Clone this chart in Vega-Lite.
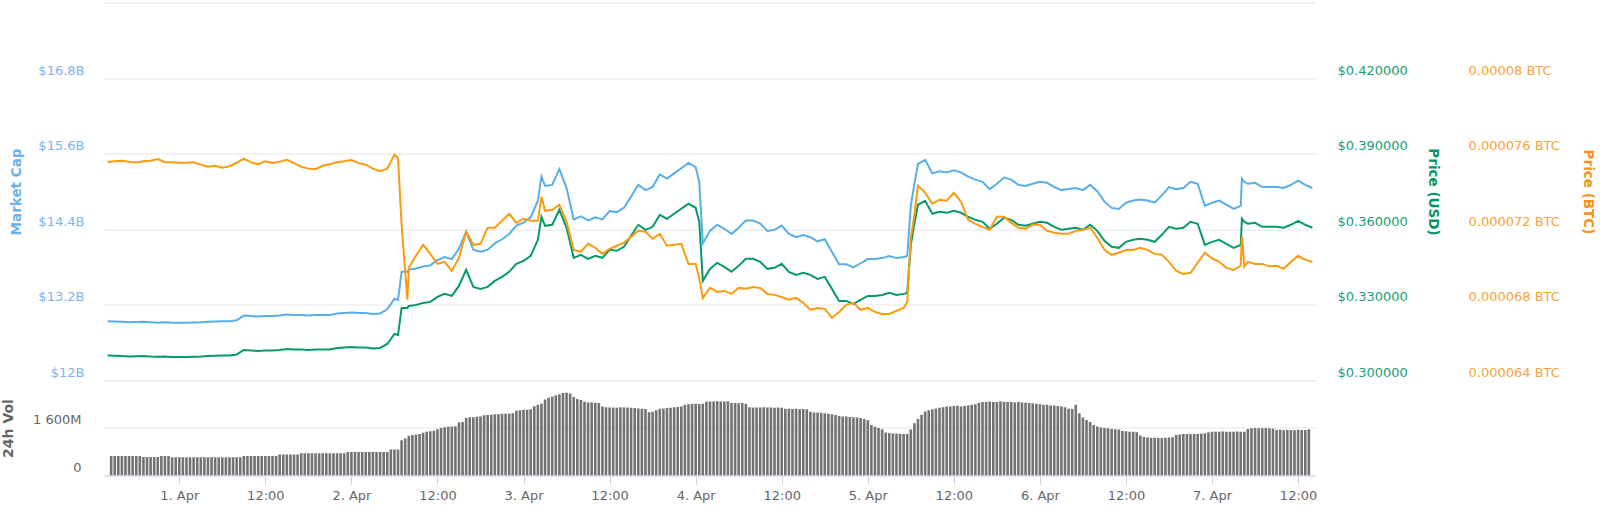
{
"$schema":"https://vega.github.io/schema/vega-lite/v6.json",
"autosize":{"type":"none"},
"padding":{"left":104,"top":2.5,"right":284,"bottom":36.5},
"width":1212,"height":473,
"background":"white",
"config":{"view":{"stroke":null},"font":"DejaVu Sans","axis":{"labelFont":"DejaVu Sans","titleFont":"DejaVu Sans","labelFontSize":13,"domain":false,"ticks":false,"tickSize":0,"grid":false,"gridColor":"#e6e6e6","labelColor":"#666666"}},
"datasets":{
"lines":[
{"t":"2019-03-31T14:00","m":12.939,"u":0.30993,"b":0.00007556},
{"t":"2019-03-31T15:00","m":12.936,"u":0.30985,"b":0.0000756},
{"t":"2019-03-31T16:00","m":12.932,"u":0.30974,"b":0.00007563},
{"t":"2019-03-31T17:00","m":12.923,"u":0.30954,"b":0.00007558},
{"t":"2019-03-31T18:00","m":12.927,"u":0.30962,"b":0.00007554},
{"t":"2019-03-31T19:00","m":12.932,"u":0.30974,"b":0.0000756},
{"t":"2019-03-31T20:00","m":12.923,"u":0.30954,"b":0.00007563},
{"t":"2019-03-31T21:00","m":12.918,"u":0.30942,"b":0.00007572},
{"t":"2019-03-31T22:00","m":12.923,"u":0.30954,"b":0.00007555},
{"t":"2019-03-31T23:00","m":12.915,"u":0.30934,"b":0.00007555},
{"t":"2019-04-01T00:00","m":12.915,"u":0.30934,"b":0.00007552},
{"t":"2019-04-01T01:00","m":12.915,"u":0.30934,"b":0.00007552},
{"t":"2019-04-01T02:00","m":12.920,"u":0.30946,"b":0.00007555},
{"t":"2019-04-01T03:00","m":12.923,"u":0.30954,"b":0.00007542},
{"t":"2019-04-01T04:00","m":12.932,"u":0.30974,"b":0.00007531},
{"t":"2019-04-01T05:00","m":12.936,"u":0.30985,"b":0.00007536},
{"t":"2019-04-01T06:00","m":12.939,"u":0.30993,"b":0.00007526},
{"t":"2019-04-01T07:00","m":12.939,"u":0.30993,"b":0.00007534},
{"t":"2019-04-01T08:00","m":12.956,"u":0.31033,"b":0.00007552},
{"t":"2019-04-01T09:00","m":13.031,"u":0.31212,"b":0.00007574},
{"t":"2019-04-01T10:00","m":13.023,"u":0.31192,"b":0.00007554},
{"t":"2019-04-01T11:00","m":13.014,"u":0.31172,"b":0.00007544},
{"t":"2019-04-01T12:00","m":13.023,"u":0.31192,"b":0.0000756},
{"t":"2019-04-01T13:00","m":13.023,"u":0.31192,"b":0.00007551},
{"t":"2019-04-01T14:00","m":13.031,"u":0.31212,"b":0.00007558},
{"t":"2019-04-01T15:00","m":13.048,"u":0.31252,"b":0.00007568},
{"t":"2019-04-01T16:00","m":13.039,"u":0.31232,"b":0.0000755},
{"t":"2019-04-01T17:00","m":13.039,"u":0.31232,"b":0.00007531},
{"t":"2019-04-01T18:00","m":13.031,"u":0.31212,"b":0.00007521},
{"t":"2019-04-01T19:00","m":13.039,"u":0.31232,"b":0.00007518},
{"t":"2019-04-01T20:00","m":13.039,"u":0.31232,"b":0.00007536},
{"t":"2019-04-01T21:00","m":13.039,"u":0.31232,"b":0.00007544},
{"t":"2019-04-01T22:00","m":13.064,"u":0.31291,"b":0.00007555},
{"t":"2019-04-01T23:00","m":13.072,"u":0.31311,"b":0.0000756},
{"t":"2019-04-02T00:00","m":13.081,"u":0.31331,"b":0.00007566},
{"t":"2019-04-02T01:00","m":13.072,"u":0.31311,"b":0.0000755},
{"t":"2019-04-02T02:00","m":13.072,"u":0.31311,"b":0.00007542},
{"t":"2019-04-02T03:00","m":13.056,"u":0.31272,"b":0.00007521},
{"t":"2019-04-02T04:00","m":13.064,"u":0.31291,"b":0.00007507},
{"t":"2019-04-02T05:00","m":13.130,"u":0.3145,"b":0.00007521},
{"t":"2019-04-02T06:00","m":13.297,"u":0.31848,"b":0.00007595},
{"t":"2019-04-02T06:30","m":13.280,"u":0.31808,"b":0.00007576},
{"t":"2019-04-02T07:00","m":13.728,"u":0.32881,"b":0.00007224},
{"t":"2019-04-02T07:48","m":13.728,"u":0.32881,"b":0.00006827},
{"t":"2019-04-02T08:00","m":13.761,"u":0.3296,"b":0.00006996},
{"t":"2019-04-02T09:00","m":13.778,"u":0.33,"b":0.0000706},
{"t":"2019-04-02T10:00","m":13.810,"u":0.33079,"b":0.00007118},
{"t":"2019-04-02T11:00","m":13.827,"u":0.33119,"b":0.0000707},
{"t":"2019-04-02T12:00","m":13.910,"u":0.33318,"b":0.00007017},
{"t":"2019-04-02T13:00","m":13.960,"u":0.33437,"b":0.00007028},
{"t":"2019-04-02T14:00","m":13.927,"u":0.33358,"b":0.0000698},
{"t":"2019-04-02T15:00","m":14.093,"u":0.33755,"b":0.00007049},
{"t":"2019-04-02T16:00","m":14.358,"u":0.34391,"b":0.00007187},
{"t":"2019-04-02T17:00","m":14.076,"u":0.33715,"b":0.00007118},
{"t":"2019-04-02T18:00","m":14.043,"u":0.33636,"b":0.00007123},
{"t":"2019-04-02T19:00","m":14.076,"u":0.33715,"b":0.00007208},
{"t":"2019-04-02T20:00","m":14.176,"u":0.33954,"b":0.00007208},
{"t":"2019-04-02T21:00","m":14.242,"u":0.34113,"b":0.00007245},
{"t":"2019-04-02T22:00","m":14.325,"u":0.34311,"b":0.00007282},
{"t":"2019-04-02T23:00","m":14.458,"u":0.34629,"b":0.00007234},
{"t":"2019-04-03T00:00","m":14.507,"u":0.34748,"b":0.00007256},
{"t":"2019-04-03T01:00","m":14.590,"u":0.34947,"b":0.00007245},
{"t":"2019-04-03T02:00","m":14.856,"u":0.35583,"b":0.00007245},
{"t":"2019-04-03T02:30","m":15.237,"u":0.36497,"b":0.00007372},
{"t":"2019-04-03T03:00","m":15.088,"u":0.36139,"b":0.00007298},
{"t":"2019-04-03T04:00","m":15.105,"u":0.36179,"b":0.00007303},
{"t":"2019-04-03T05:00","m":15.354,"u":0.36775,"b":0.0000733},
{"t":"2019-04-03T06:00","m":15.055,"u":0.3606,"b":0.0000724},
{"t":"2019-04-03T07:00","m":14.557,"u":0.34868,"b":0.00007091},
{"t":"2019-04-03T08:00","m":14.607,"u":0.34987,"b":0.00007081},
{"t":"2019-04-03T09:00","m":14.541,"u":0.34828,"b":0.00007123},
{"t":"2019-04-03T10:00","m":14.590,"u":0.34947,"b":0.00007102},
{"t":"2019-04-03T11:00","m":14.557,"u":0.34868,"b":0.0000707},
{"t":"2019-04-03T12:00","m":14.690,"u":0.35185,"b":0.00007097},
{"t":"2019-04-03T13:00","m":14.673,"u":0.35146,"b":0.00007113},
{"t":"2019-04-03T14:00","m":14.740,"u":0.35305,"b":0.00007129},
{"t":"2019-04-03T15:00","m":14.922,"u":0.35742,"b":0.0000716},
{"t":"2019-04-03T16:00","m":15.105,"u":0.36179,"b":0.00007192},
{"t":"2019-04-03T17:00","m":15.022,"u":0.3598,"b":0.00007187},
{"t":"2019-04-03T18:00","m":15.071,"u":0.36099,"b":0.0000715},
{"t":"2019-04-03T19:00","m":15.270,"u":0.36576,"b":0.00007176},
{"t":"2019-04-03T20:00","m":15.204,"u":0.36417,"b":0.00007113},
{"t":"2019-04-03T21:00","m":15.287,"u":0.36616,"b":0.00007118},
{"t":"2019-04-03T22:00","m":15.370,"u":0.36815,"b":0.00007123},
{"t":"2019-04-03T23:00","m":15.453,"u":0.37013,"b":0.00007017},
{"t":"2019-04-04T00:00","m":15.387,"u":0.36854,"b":0.00007017},
{"t":"2019-04-04T00:30","m":15.154,"u":0.36298,"b":0.00006943},
{"t":"2019-04-04T01:00","m":14.176,"u":0.33954,"b":0.00006837},
{"t":"2019-04-04T02:00","m":14.375,"u":0.3443,"b":0.0000689},
{"t":"2019-04-04T03:00","m":14.474,"u":0.34669,"b":0.00006869},
{"t":"2019-04-04T04:00","m":14.408,"u":0.3451,"b":0.00006874},
{"t":"2019-04-04T05:00","m":14.325,"u":0.34311,"b":0.00006858},
{"t":"2019-04-04T06:00","m":14.425,"u":0.3455,"b":0.0000689},
{"t":"2019-04-04T07:00","m":14.541,"u":0.34828,"b":0.00006885},
{"t":"2019-04-04T08:00","m":14.541,"u":0.34828,"b":0.00006895},
{"t":"2019-04-04T09:00","m":14.491,"u":0.34709,"b":0.0000689},
{"t":"2019-04-04T10:00","m":14.375,"u":0.3443,"b":0.00006858},
{"t":"2019-04-04T11:00","m":14.391,"u":0.3447,"b":0.00006853},
{"t":"2019-04-04T12:00","m":14.458,"u":0.34629,"b":0.00006842},
{"t":"2019-04-04T13:00","m":14.325,"u":0.34311,"b":0.00006827},
{"t":"2019-04-04T14:00","m":14.275,"u":0.34192,"b":0.00006837},
{"t":"2019-04-04T15:00","m":14.309,"u":0.34272,"b":0.00006811},
{"t":"2019-04-04T16:00","m":14.275,"u":0.34192,"b":0.00006774},
{"t":"2019-04-04T17:00","m":14.209,"u":0.34033,"b":0.00006784},
{"t":"2019-04-04T18:00","m":14.242,"u":0.34113,"b":0.00006779},
{"t":"2019-04-04T19:00","m":14.043,"u":0.33636,"b":0.00006731},
{"t":"2019-04-04T20:00","m":13.844,"u":0.33159,"b":0.00006763},
{"t":"2019-04-04T21:00","m":13.844,"u":0.33159,"b":0.000068},
{"t":"2019-04-04T22:00","m":13.794,"u":0.3304,"b":0.00006811},
{"t":"2019-04-04T23:00","m":13.861,"u":0.33199,"b":0.00006774},
{"t":"2019-04-05T00:00","m":13.927,"u":0.33358,"b":0.00006784},
{"t":"2019-04-05T01:00","m":13.927,"u":0.33358,"b":0.00006763},
{"t":"2019-04-05T02:00","m":13.943,"u":0.33397,"b":0.00006752},
{"t":"2019-04-05T03:00","m":13.977,"u":0.33477,"b":0.00006752},
{"t":"2019-04-05T04:00","m":13.943,"u":0.33397,"b":0.00006768},
{"t":"2019-04-05T05:00","m":13.960,"u":0.33437,"b":0.00006784},
{"t":"2019-04-05T05:30","m":13.977,"u":0.33477,"b":0.00006816},
{"t":"2019-04-05T06:00","m":14.773,"u":0.35384,"b":0.00007155},
{"t":"2019-04-05T06:30","m":15.122,"u":0.36219,"b":0.00007277},
{"t":"2019-04-05T07:00","m":15.437,"u":0.36974,"b":0.00007431},
{"t":"2019-04-05T08:00","m":15.503,"u":0.37133,"b":0.00007393},
{"t":"2019-04-05T09:00","m":15.287,"u":0.36616,"b":0.00007335},
{"t":"2019-04-05T10:00","m":15.320,"u":0.36695,"b":0.00007356},
{"t":"2019-04-05T11:00","m":15.303,"u":0.36656,"b":0.00007351},
{"t":"2019-04-05T12:00","m":15.337,"u":0.36735,"b":0.00007393},
{"t":"2019-04-05T13:00","m":15.303,"u":0.36656,"b":0.00007346},
{"t":"2019-04-05T14:00","m":15.237,"u":0.36497,"b":0.0000725},
{"t":"2019-04-05T15:00","m":15.188,"u":0.36377,"b":0.00007229},
{"t":"2019-04-05T16:00","m":15.154,"u":0.36298,"b":0.00007213},
{"t":"2019-04-05T17:00","m":15.038,"u":0.3602,"b":0.00007197},
{"t":"2019-04-05T18:00","m":15.122,"u":0.36219,"b":0.00007266},
{"t":"2019-04-05T19:00","m":15.221,"u":0.36457,"b":0.00007266},
{"t":"2019-04-05T20:00","m":15.188,"u":0.36377,"b":0.00007234},
{"t":"2019-04-05T21:00","m":15.105,"u":0.36179,"b":0.00007208},
{"t":"2019-04-05T22:00","m":15.088,"u":0.36139,"b":0.00007203},
{"t":"2019-04-05T23:00","m":15.122,"u":0.36219,"b":0.00007224},
{"t":"2019-04-06T00:00","m":15.154,"u":0.36298,"b":0.00007224},
{"t":"2019-04-06T01:00","m":15.138,"u":0.36258,"b":0.00007192},
{"t":"2019-04-06T02:00","m":15.071,"u":0.36099,"b":0.00007182},
{"t":"2019-04-06T03:00","m":15.022,"u":0.3598,"b":0.00007176},
{"t":"2019-04-06T04:00","m":15.038,"u":0.3602,"b":0.00007176},
{"t":"2019-04-06T05:00","m":15.055,"u":0.3606,"b":0.00007192},
{"t":"2019-04-06T06:00","m":15.022,"u":0.3598,"b":0.00007197},
{"t":"2019-04-06T07:00","m":15.105,"u":0.36179,"b":0.00007208},
{"t":"2019-04-06T08:00","m":15.005,"u":0.3594,"b":0.00007155},
{"t":"2019-04-06T09:00","m":14.839,"u":0.35543,"b":0.00007091},
{"t":"2019-04-06T10:00","m":14.740,"u":0.35305,"b":0.00007065},
{"t":"2019-04-06T11:00","m":14.723,"u":0.35265,"b":0.00007076},
{"t":"2019-04-06T12:00","m":14.822,"u":0.35503,"b":0.00007091},
{"t":"2019-04-06T13:00","m":14.856,"u":0.35583,"b":0.00007091},
{"t":"2019-04-06T14:00","m":14.872,"u":0.35623,"b":0.00007102},
{"t":"2019-04-06T15:00","m":14.856,"u":0.35583,"b":0.00007091},
{"t":"2019-04-06T16:00","m":14.822,"u":0.35503,"b":0.0000707},
{"t":"2019-04-06T17:00","m":14.939,"u":0.35782,"b":0.00007065},
{"t":"2019-04-06T18:00","m":15.071,"u":0.36099,"b":0.00007028},
{"t":"2019-04-06T19:00","m":15.038,"u":0.3602,"b":0.0000698},
{"t":"2019-04-06T20:00","m":15.055,"u":0.3606,"b":0.00006964},
{"t":"2019-04-06T21:00","m":15.154,"u":0.36298,"b":0.0000697},
{"t":"2019-04-06T22:00","m":15.122,"u":0.36219,"b":0.00007023},
{"t":"2019-04-06T23:00","m":14.773,"u":0.35384,"b":0.00007076},
{"t":"2019-04-07T00:00","m":14.822,"u":0.35503,"b":0.00007046},
{"t":"2019-04-07T01:00","m":14.856,"u":0.35583,"b":0.00007028},
{"t":"2019-04-07T02:00","m":14.790,"u":0.35424,"b":0.00006996},
{"t":"2019-04-07T03:00","m":14.723,"u":0.35265,"b":0.00006985},
{"t":"2019-04-07T04:00","m":14.773,"u":0.35384,"b":0.00007007},
{"t":"2019-04-07T04:10","m":15.204,"u":0.36417,"b":0.00007163},
{"t":"2019-04-07T04:30","m":15.154,"u":0.36298,"b":0.00007003},
{"t":"2019-04-07T05:00","m":15.122,"u":0.36219,"b":0.00007028},
{"t":"2019-04-07T06:00","m":15.138,"u":0.36258,"b":0.00007017},
{"t":"2019-04-07T07:00","m":15.071,"u":0.36099,"b":0.00007017},
{"t":"2019-04-07T08:00","m":15.071,"u":0.36099,"b":0.00007004},
{"t":"2019-04-07T09:00","m":15.071,"u":0.36099,"b":0.00007007},
{"t":"2019-04-07T10:00","m":15.055,"u":0.3606,"b":0.00006991},
{"t":"2019-04-07T11:00","m":15.105,"u":0.36179,"b":0.00007028},
{"t":"2019-04-07T12:00","m":15.171,"u":0.36338,"b":0.0000706},
{"t":"2019-04-07T13:00","m":15.105,"u":0.36179,"b":0.00007038},
{"t":"2019-04-07T14:00","m":15.055,"u":0.3606,"b":0.00007028}
],
"vol":[
{"t":"2019-03-31T14:30","v":657},{"t":"2019-03-31T15:00","v":657},{"t":"2019-03-31T15:30","v":657},{"t":"2019-03-31T16:00","v":657},{"t":"2019-03-31T16:30","v":657},{"t":"2019-03-31T17:00","v":657},{"t":"2019-03-31T17:30","v":657},{"t":"2019-03-31T18:00","v":657},{"t":"2019-03-31T18:30","v":657},
{"t":"2019-03-31T19:00","v":623},{"t":"2019-03-31T19:30","v":623},{"t":"2019-03-31T20:00","v":623},{"t":"2019-03-31T20:30","v":623},{"t":"2019-03-31T21:00","v":623},
{"t":"2019-03-31T21:30","v":657},{"t":"2019-03-31T22:00","v":657},{"t":"2019-03-31T22:30","v":657},
{"t":"2019-03-31T23:00","v":613},{"t":"2019-03-31T23:30","v":613},
{"t":"2019-04-01T00:00","v":613},{"t":"2019-04-01T00:30","v":613},{"t":"2019-04-01T01:00","v":613},{"t":"2019-04-01T01:30","v":613},{"t":"2019-04-01T02:00","v":613},{"t":"2019-04-01T02:30","v":613},{"t":"2019-04-01T03:00","v":613},{"t":"2019-04-01T03:30","v":613},{"t":"2019-04-01T04:00","v":613},{"t":"2019-04-01T04:30","v":613},{"t":"2019-04-01T05:00","v":613},{"t":"2019-04-01T05:30","v":613},{"t":"2019-04-01T06:00","v":613},{"t":"2019-04-01T06:30","v":613},{"t":"2019-04-01T07:00","v":613},{"t":"2019-04-01T07:30","v":613},{"t":"2019-04-01T08:00","v":613},{"t":"2019-04-01T08:30","v":613},
{"t":"2019-04-01T09:00","v":657},{"t":"2019-04-01T09:30","v":657},{"t":"2019-04-01T10:00","v":657},{"t":"2019-04-01T10:30","v":657},{"t":"2019-04-01T11:00","v":657},{"t":"2019-04-01T11:30","v":657},{"t":"2019-04-01T12:00","v":657},{"t":"2019-04-01T12:30","v":657},{"t":"2019-04-01T13:00","v":657},{"t":"2019-04-01T13:30","v":657},
{"t":"2019-04-01T14:00","v":704},{"t":"2019-04-01T14:30","v":704},{"t":"2019-04-01T15:00","v":704},{"t":"2019-04-01T15:30","v":704},{"t":"2019-04-01T16:00","v":704},{"t":"2019-04-01T16:30","v":704},
{"t":"2019-04-01T17:00","v":749},{"t":"2019-04-01T17:30","v":749},{"t":"2019-04-01T18:00","v":749},{"t":"2019-04-01T18:30","v":749},{"t":"2019-04-01T19:00","v":749},{"t":"2019-04-01T19:30","v":749},{"t":"2019-04-01T20:00","v":749},{"t":"2019-04-01T20:30","v":749},{"t":"2019-04-01T21:00","v":749},{"t":"2019-04-01T21:30","v":749},{"t":"2019-04-01T22:00","v":749},{"t":"2019-04-01T22:30","v":749},{"t":"2019-04-01T23:00","v":749},
{"t":"2019-04-01T23:30","v":794},{"t":"2019-04-02T00:00","v":794},{"t":"2019-04-02T00:30","v":794},{"t":"2019-04-02T01:00","v":794},{"t":"2019-04-02T01:30","v":794},{"t":"2019-04-02T02:00","v":794},{"t":"2019-04-02T02:30","v":794},{"t":"2019-04-02T03:00","v":794},{"t":"2019-04-02T03:30","v":794},{"t":"2019-04-02T04:00","v":794},{"t":"2019-04-02T04:30","v":794},{"t":"2019-04-02T05:00","v":794},
{"t":"2019-04-02T05:30","v":874},{"t":"2019-04-02T06:00","v":874},{"t":"2019-04-02T06:30","v":874},
{"t":"2019-04-02T07:00","v":1191},{"t":"2019-04-02T07:30","v":1250},
{"t":"2019-04-02T08:00","v":1340},{"t":"2019-04-02T08:30","v":1362},{"t":"2019-04-02T09:00","v":1380},{"t":"2019-04-02T09:30","v":1400},
{"t":"2019-04-02T10:00","v":1440},{"t":"2019-04-02T10:30","v":1475},{"t":"2019-04-02T11:00","v":1490},{"t":"2019-04-02T11:30","v":1510},
{"t":"2019-04-02T12:00","v":1560},{"t":"2019-04-02T12:30","v":1600},{"t":"2019-04-02T13:00","v":1623},{"t":"2019-04-02T13:30","v":1640},{"t":"2019-04-02T14:00","v":1650},{"t":"2019-04-02T14:30","v":1660},
{"t":"2019-04-02T15:00","v":1782},{"t":"2019-04-02T15:30","v":1800},
{"t":"2019-04-02T16:00","v":1940},{"t":"2019-04-02T16:30","v":1963},{"t":"2019-04-02T17:00","v":1963},{"t":"2019-04-02T17:30","v":1975},{"t":"2019-04-02T18:00","v":1985},
{"t":"2019-04-02T18:30","v":2030},{"t":"2019-04-02T19:00","v":2040},{"t":"2019-04-02T19:30","v":2050},{"t":"2019-04-02T20:00","v":2065},{"t":"2019-04-02T20:30","v":2065},{"t":"2019-04-02T21:00","v":2080},{"t":"2019-04-02T21:30","v":2080},{"t":"2019-04-02T22:00","v":2090},{"t":"2019-04-02T22:30","v":2100},
{"t":"2019-04-02T23:00","v":2180},{"t":"2019-04-02T23:30","v":2200},{"t":"2019-04-03T00:00","v":2213},{"t":"2019-04-03T00:30","v":2213},{"t":"2019-04-03T01:00","v":2230},
{"t":"2019-04-03T01:30","v":2330},{"t":"2019-04-03T02:00","v":2383},{"t":"2019-04-03T02:30","v":2420},
{"t":"2019-04-03T03:00","v":2560},{"t":"2019-04-03T03:30","v":2620},{"t":"2019-04-03T04:00","v":2660},{"t":"2019-04-03T04:30","v":2700},{"t":"2019-04-03T05:00","v":2740},
{"t":"2019-04-03T05:30","v":2780},{"t":"2019-04-03T06:00","v":2790},{"t":"2019-04-03T06:30","v":2760},
{"t":"2019-04-03T07:00","v":2640},{"t":"2019-04-03T07:30","v":2576},{"t":"2019-04-03T08:00","v":2540},
{"t":"2019-04-03T08:30","v":2480},{"t":"2019-04-03T09:00","v":2462},{"t":"2019-04-03T09:30","v":2462},{"t":"2019-04-03T10:00","v":2450},{"t":"2019-04-03T10:30","v":2440},
{"t":"2019-04-03T11:00","v":2320},{"t":"2019-04-03T11:30","v":2300},{"t":"2019-04-03T12:00","v":2292},{"t":"2019-04-03T12:30","v":2292},{"t":"2019-04-03T13:00","v":2280},{"t":"2019-04-03T13:30","v":2300},{"t":"2019-04-03T14:00","v":2292},{"t":"2019-04-03T14:30","v":2290},{"t":"2019-04-03T15:00","v":2280},{"t":"2019-04-03T15:30","v":2270},{"t":"2019-04-03T16:00","v":2260},{"t":"2019-04-03T16:30","v":2250},{"t":"2019-04-03T17:00","v":2240},
{"t":"2019-04-03T17:30","v":2133},{"t":"2019-04-03T18:00","v":2150},
{"t":"2019-04-03T18:30","v":2200},{"t":"2019-04-03T19:00","v":2250},{"t":"2019-04-03T19:30","v":2260},{"t":"2019-04-03T20:00","v":2270},{"t":"2019-04-03T20:30","v":2280},{"t":"2019-04-03T21:00","v":2300},{"t":"2019-04-03T21:30","v":2310},{"t":"2019-04-03T22:00","v":2320},
{"t":"2019-04-03T22:30","v":2380},{"t":"2019-04-03T23:00","v":2400},{"t":"2019-04-03T23:30","v":2406},{"t":"2019-04-04T00:00","v":2420},{"t":"2019-04-04T00:30","v":2406},{"t":"2019-04-04T01:00","v":2420},
{"t":"2019-04-04T01:30","v":2480},{"t":"2019-04-04T02:00","v":2496},{"t":"2019-04-04T02:30","v":2496},{"t":"2019-04-04T03:00","v":2510},{"t":"2019-04-04T03:30","v":2496},{"t":"2019-04-04T04:00","v":2490},{"t":"2019-04-04T04:30","v":2500},
{"t":"2019-04-04T05:00","v":2440},{"t":"2019-04-04T05:30","v":2440},{"t":"2019-04-04T06:00","v":2430},{"t":"2019-04-04T06:30","v":2440},{"t":"2019-04-04T07:00","v":2420},
{"t":"2019-04-04T07:30","v":2300},{"t":"2019-04-04T08:00","v":2292},{"t":"2019-04-04T08:30","v":2292},{"t":"2019-04-04T09:00","v":2292},{"t":"2019-04-04T09:30","v":2300},{"t":"2019-04-04T10:00","v":2292},{"t":"2019-04-04T10:30","v":2292},{"t":"2019-04-04T11:00","v":2280},{"t":"2019-04-04T11:30","v":2292},{"t":"2019-04-04T12:00","v":2280},
{"t":"2019-04-04T12:30","v":2247},{"t":"2019-04-04T13:00","v":2247},{"t":"2019-04-04T13:30","v":2240},{"t":"2019-04-04T14:00","v":2247},{"t":"2019-04-04T14:30","v":2230},{"t":"2019-04-04T15:00","v":2240},{"t":"2019-04-04T15:30","v":2230},
{"t":"2019-04-04T16:00","v":2150},{"t":"2019-04-04T16:30","v":2122},{"t":"2019-04-04T17:00","v":2122},{"t":"2019-04-04T17:30","v":2110},{"t":"2019-04-04T18:00","v":2100},{"t":"2019-04-04T18:30","v":2080},{"t":"2019-04-04T19:00","v":2060},{"t":"2019-04-04T19:30","v":2040},
{"t":"2019-04-04T20:00","v":2000},{"t":"2019-04-04T20:30","v":1986},{"t":"2019-04-04T21:00","v":1986},{"t":"2019-04-04T21:30","v":1970},{"t":"2019-04-04T22:00","v":1960},{"t":"2019-04-04T22:30","v":1950},{"t":"2019-04-04T23:00","v":1940},{"t":"2019-04-04T23:30","v":1900},{"t":"2019-04-05T00:00","v":1860},
{"t":"2019-04-05T00:30","v":1700},{"t":"2019-04-05T01:00","v":1645},{"t":"2019-04-05T01:30","v":1600},{"t":"2019-04-05T02:00","v":1560},
{"t":"2019-04-05T02:30","v":1450},{"t":"2019-04-05T03:00","v":1430},{"t":"2019-04-05T03:30","v":1418},{"t":"2019-04-05T04:00","v":1418},{"t":"2019-04-05T04:30","v":1410},{"t":"2019-04-05T05:00","v":1400},{"t":"2019-04-05T05:30","v":1400},
{"t":"2019-04-05T06:00","v":1550},{"t":"2019-04-05T06:30","v":1759},{"t":"2019-04-05T07:00","v":1900},
{"t":"2019-04-05T07:30","v":2050},{"t":"2019-04-05T08:00","v":2156},{"t":"2019-04-05T08:30","v":2200},{"t":"2019-04-05T09:00","v":2230},{"t":"2019-04-05T09:30","v":2260},{"t":"2019-04-05T10:00","v":2280},
{"t":"2019-04-05T10:30","v":2300},{"t":"2019-04-05T11:00","v":2326},{"t":"2019-04-05T11:30","v":2326},{"t":"2019-04-05T12:00","v":2340},{"t":"2019-04-05T12:30","v":2350},{"t":"2019-04-05T13:00","v":2326},{"t":"2019-04-05T13:30","v":2340},{"t":"2019-04-05T14:00","v":2360},{"t":"2019-04-05T14:30","v":2380},{"t":"2019-04-05T15:00","v":2400},
{"t":"2019-04-05T15:30","v":2450},{"t":"2019-04-05T16:00","v":2474},{"t":"2019-04-05T16:30","v":2474},{"t":"2019-04-05T17:00","v":2490},{"t":"2019-04-05T17:30","v":2474},{"t":"2019-04-05T18:00","v":2474},{"t":"2019-04-05T18:30","v":2500},{"t":"2019-04-05T19:00","v":2474},{"t":"2019-04-05T19:30","v":2474},{"t":"2019-04-05T20:00","v":2474},{"t":"2019-04-05T20:30","v":2460},{"t":"2019-04-05T21:00","v":2474},{"t":"2019-04-05T21:30","v":2460},{"t":"2019-04-05T22:00","v":2450},{"t":"2019-04-05T22:30","v":2440},{"t":"2019-04-05T23:00","v":2430},{"t":"2019-04-05T23:30","v":2420},
{"t":"2019-04-06T00:00","v":2400},{"t":"2019-04-06T00:30","v":2383},{"t":"2019-04-06T01:00","v":2383},{"t":"2019-04-06T01:30","v":2360},{"t":"2019-04-06T02:00","v":2360},{"t":"2019-04-06T02:30","v":2340},{"t":"2019-04-06T03:00","v":2320},{"t":"2019-04-06T03:30","v":2300},{"t":"2019-04-06T04:00","v":2250},{"t":"2019-04-06T04:30","v":2240},{"t":"2019-04-06T05:00","v":2383},
{"t":"2019-04-06T05:30","v":2100},{"t":"2019-04-06T06:00","v":1950},{"t":"2019-04-06T06:30","v":1872},{"t":"2019-04-06T07:00","v":1800},
{"t":"2019-04-06T07:30","v":1700},{"t":"2019-04-06T08:00","v":1650},{"t":"2019-04-06T08:30","v":1620},{"t":"2019-04-06T09:00","v":1600},{"t":"2019-04-06T09:30","v":1589},{"t":"2019-04-06T10:00","v":1570},{"t":"2019-04-06T10:30","v":1560},{"t":"2019-04-06T11:00","v":1550},
{"t":"2019-04-06T11:30","v":1500},{"t":"2019-04-06T12:00","v":1490},{"t":"2019-04-06T12:30","v":1475},{"t":"2019-04-06T13:00","v":1475},{"t":"2019-04-06T13:30","v":1460},
{"t":"2019-04-06T14:00","v":1350},{"t":"2019-04-06T14:30","v":1300},{"t":"2019-04-06T15:00","v":1280},{"t":"2019-04-06T15:30","v":1271},{"t":"2019-04-06T16:00","v":1271},{"t":"2019-04-06T16:30","v":1260},{"t":"2019-04-06T17:00","v":1260},{"t":"2019-04-06T17:30","v":1271},{"t":"2019-04-06T18:00","v":1280},{"t":"2019-04-06T18:30","v":1290},
{"t":"2019-04-06T19:00","v":1360},{"t":"2019-04-06T19:30","v":1380},{"t":"2019-04-06T20:00","v":1396},{"t":"2019-04-06T20:30","v":1396},{"t":"2019-04-06T21:00","v":1400},{"t":"2019-04-06T21:30","v":1396},{"t":"2019-04-06T22:00","v":1396},{"t":"2019-04-06T22:30","v":1410},{"t":"2019-04-06T23:00","v":1420},
{"t":"2019-04-06T23:30","v":1460},{"t":"2019-04-07T00:00","v":1475},{"t":"2019-04-07T00:30","v":1475},{"t":"2019-04-07T01:00","v":1475},{"t":"2019-04-07T01:30","v":1480},{"t":"2019-04-07T02:00","v":1475},{"t":"2019-04-07T02:30","v":1475},{"t":"2019-04-07T03:00","v":1475},{"t":"2019-04-07T03:30","v":1480},{"t":"2019-04-07T04:00","v":1475},{"t":"2019-04-07T04:30","v":1475},
{"t":"2019-04-07T05:00","v":1570},{"t":"2019-04-07T05:30","v":1589},{"t":"2019-04-07T06:00","v":1600},{"t":"2019-04-07T06:30","v":1589},{"t":"2019-04-07T07:00","v":1589},{"t":"2019-04-07T07:30","v":1600},{"t":"2019-04-07T08:00","v":1589},{"t":"2019-04-07T08:30","v":1580},
{"t":"2019-04-07T09:00","v":1532},{"t":"2019-04-07T09:30","v":1540},{"t":"2019-04-07T10:00","v":1520},{"t":"2019-04-07T10:30","v":1532},{"t":"2019-04-07T11:00","v":1532},{"t":"2019-04-07T11:30","v":1520},{"t":"2019-04-07T12:00","v":1540},{"t":"2019-04-07T12:30","v":1532},{"t":"2019-04-07T13:00","v":1532},{"t":"2019-04-07T13:30","v":1560}
]
},
"encoding":{"x":{"field":"t","type":"temporal",
"scale":{"domain":[{"year":2019,"month":3,"date":31,"hours":14,"minutes":12},{"year":2019,"month":4,"date":7,"hours":13,"minutes":48}]},
"axis":{"domain":true,"domainColor":"#ccd6eb","ticks":true,"tickColor":"#ccd6eb","tickSize":9,"labelPadding":5,"grid":false,"title":null,"labelFlush":false,"labelOverlap":false,"labelColor":"#666666",
"values":[{"year":2019,"month":4,"date":1,"hours":0},{"year":2019,"month":4,"date":1,"hours":12},{"year":2019,"month":4,"date":2,"hours":0},{"year":2019,"month":4,"date":2,"hours":12},{"year":2019,"month":4,"date":3,"hours":0},{"year":2019,"month":4,"date":3,"hours":12},{"year":2019,"month":4,"date":4,"hours":0},{"year":2019,"month":4,"date":4,"hours":12},{"year":2019,"month":4,"date":5,"hours":0},{"year":2019,"month":4,"date":5,"hours":12},{"year":2019,"month":4,"date":6,"hours":0},{"year":2019,"month":4,"date":6,"hours":12},{"year":2019,"month":4,"date":7,"hours":0},{"year":2019,"month":4,"date":7,"hours":12}],
"labelExpr":"hours(datum.value) == 0 ? timeFormat(datum.value, '%-d. %b') : timeFormat(datum.value, '%H:%M')"}}},
"layer":[
{"data":{"values":[{"a":0,"b":3200}]},"mark":{"type":"rule","color":"#ccd6eb","strokeWidth":1,"xOffset":-4},
"encoding":{"x":{"datum":{"year":2019,"month":3,"date":31,"hours":14,"minutes":12},"type":"temporal"},
"y":{"field":"a","type":"quantitative","scale":{"domain":[0,15932.6],"nice":false,"zero":false},"axis":null},"y2":{"field":"b"}}},
{"data":{"name":"vol"},"mark":{"type":"bar","color":"#727272","width":2.6,"clip":true},
"encoding":{"y":{"field":"v","type":"quantitative","scale":{"domain":[0,15932.6],"nice":false,"zero":false},
"axis":{"orient":"left","offset":4,"values":[0,1600,3200],"grid":true,"labelExpr":"datum.value == 0 ? '0' : (datum.value >= 3200 ? '' : replace(format(datum.value, ','), ',', ' ') + 'M')","labelPadding":19,"labelOffset":-8,"labelColor":"#666666","title":"24h Vol","titleFontSize":14,"titleFontWeight":"bold","titleColor":"#666666","titleX":-91.2,"titleY":425.5,"titleBaseline":"middle","titleAngle":-90}}}},
{"data":{"name":"lines"},"mark":{"type":"line","color":"#58aee8","strokeWidth":2,"clip":true},
"encoding":{"y":{"field":"m","type":"quantitative","scale":{"domain":[10.49206,18],"nice":false,"zero":false},
"axis":{"orient":"left","values":[12,13.2,14.4,15.6,16.8,18],"grid":true,"labelExpr":"datum.value >= 17.9 ? '' : '$' + format(datum.value, '.1~f') + 'B'","labelColor":"#7cb5ec","labelPadding":20,"labelOffset":-8,"title":"Market Cap","titleColor":"#6cb1ea","titleFontSize":13.5,"titleFontWeight":"bold","titleX":-88,"titleY":189,"titleBaseline":"middle","titleAngle":-90}}}},
{"data":{"name":"lines"},"mark":{"type":"line","color":"#07996a","strokeWidth":2,"clip":true},
"encoding":{"y":{"field":"u","type":"quantitative","scale":{"domain":[0.262302,0.45],"nice":false,"zero":false},
"axis":{"orient":"right","values":[0.3,0.33,0.36,0.39,0.42],"labelExpr":"'$' + format(datum.value, '.6f')","labelColor":"#16a075","labelPadding":21,"labelOffset":-8,"title":"Price (USD)","titleColor":"#079567","titleFontSize":13.5,"titleFontWeight":"bold","titleX":116,"titleY":189,"titleBaseline":"middle","titleAngle":90}}}},
{"data":{"name":"lines"},"mark":{"type":"line","color":"#fb9b10","strokeWidth":2,"clip":true},
"encoding":{"y":{"field":"b","type":"quantitative","scale":{"domain":[0.0000589735,0.000084],"nice":false,"zero":false},
"axis":{"orient":"right","offset":131,"values":[0.000064,0.000068,0.000072,0.000076,0.00008],"labelExpr":"format(datum.value, '.6~f') + ' BTC'","labelColor":"#f9a23a","labelPadding":21,"labelOffset":-8,"title":"Price (BTC)","titleColor":"#f7931a","titleFontSize":13.5,"titleFontWeight":"bold","titleX":140,"titleY":189,"titleBaseline":"middle","titleAngle":90}}}}
],
"resolve":{"scale":{"y":"independent"},"axis":{"y":"independent"}}
}
